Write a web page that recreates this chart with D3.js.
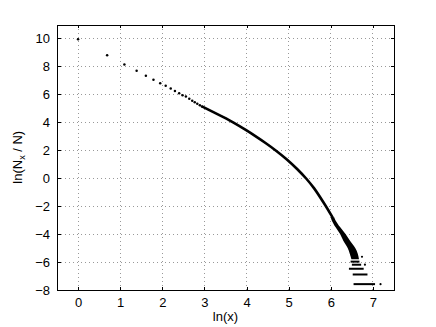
<!DOCTYPE html>
<html>
<head>
<meta charset="utf-8">
<script src="https://cdn.jsdelivr.net/npm/d3@7/dist/d3.min.js"></script>
<style>
  body { margin: 0; background: #fff; }
  svg { display: block; font-family: "Liberation Sans", Arial, sans-serif; }
</style>
</head>
<body>
<div id="chart"></div>
<script>
// separate points at the start
const headX = [0, 0.69, 1.10, 1.39, 1.61, 1.79, 1.95, 2.08, 2.20, 2.30, 2.40, 2.48, 2.56, 2.64, 2.71, 2.77, 2.83, 2.89, 2.94];
const headY = [9.95, 8.80, 8.14, 7.69, 7.33, 7.04, 6.80, 6.62, 6.42, 6.25, 6.08, 5.94, 5.84, 5.68, 5.55, 5.43, 5.32, 5.22, 5.14];

// dense part, where the dots merge into a line
const bodyX = [2.94, 3.20, 3.45, 3.68, 4.00, 4.20, 4.45, 4.70, 4.95, 5.20, 5.42, 5.60, 5.85, 6.05];
const bodyY = [5.14, 4.75, 4.37, 4.00, 3.42, 3.03, 2.52, 1.97, 1.36, 0.66, -0.04, -0.71, -1.85, -2.85];

// tail: horizontal spread of the dots at each height
const spreadY = [-2.8, -3.0, -3.5, -4.0, -4.5, -5.0, -5.4, -5.8];
const spreadLo = [6.00, 6.02, 6.11, 6.22, 6.30, 6.40, 6.45, 6.49];
const spreadHi = [6.08, 6.11, 6.22, 6.35, 6.46, 6.58, 6.64, 6.67];

// bottom rows (counts 1,2,3,4,5)
const runY = [-7.58, -6.89, -6.48, -6.19, -5.97];
const runX0 = [6.54, 6.52, 6.43, 6.50, 6.47];
const runX1 = [7.05, 6.87, 6.78, 6.72, 6.68];

// lone dots
const strayX = [7.18, 6.81, 6.74];
const strayY = [-7.58, -6.19, -5.62];

const xTicks = [0, 1, 2, 3, 4, 5, 6, 7];
const yTicks = [-8, -6, -4, -2, 0, 2, 4, 6, 8, 10];

const W = 436, H = 327;
const mLeft = 57, mRight = 394, mTop = 24.5, mBottom = 290;

const svg = d3.select("#chart").append("svg")
  .attr("width", W)
  .attr("height", H);

const x = d3.scaleLinear().domain([-0.5, 7.5]).range([mLeft, mRight]);
const y = d3.scaleLinear().domain([-8, 11]).range([mBottom, mTop]);

// grid
const grid = svg.append("g")
  .attr("stroke", "#999")
  .attr("stroke-width", 1)
  .attr("stroke-dasharray", "1,3")
  .attr("shape-rendering", "crispEdges");
grid.selectAll(".gx").data(xTicks).join("line")
  .attr("x1", d => x(d)).attr("x2", d => x(d))
  .attr("y1", mBottom).attr("y2", mTop);
grid.selectAll(".gy").data(yTicks).join("line")
  .attr("y1", d => y(d)).attr("y2", d => y(d))
  .attr("x1", mLeft).attr("x2", mRight);

// data
const plot = svg.append("g");

plot.append("path")
  .datum(bodyX.map((v, i) => [v, bodyY[i]]))
  .attr("fill", "none")
  .attr("stroke", "#000")
  .attr("stroke-width", 2.6)
  .attr("d", d3.line().x(d => x(d[0])).y(d => y(d[1])).curve(d3.curveMonotoneX));

plot.append("path")
  .datum(spreadY.map((v, i) => ({ y: v, lo: spreadLo[i], hi: spreadHi[i] })))
  .attr("fill", "#000")
  .attr("d", d3.area().y(d => y(d.y)).x0(d => x(d.lo)).x1(d => x(d.hi)).curve(d3.curveCatmullRom));

plot.selectAll(".run").data(runY).join("line")
  .attr("x1", (d, i) => x(runX0[i]))
  .attr("x2", (d, i) => x(runX1[i]))
  .attr("y1", d => y(d)).attr("y2", d => y(d))
  .attr("stroke", "#000")
  .attr("stroke-width", 2);

plot.selectAll(".head").data(headX).join("circle")
  .attr("cx", d => x(d))
  .attr("cy", (d, i) => y(headY[i]))
  .attr("r", 1.25)
  .attr("fill", "#000");

plot.selectAll(".stray").data(strayX).join("circle")
  .attr("cx", d => x(d))
  .attr("cy", (d, i) => y(strayY[i]))
  .attr("r", 1.1)
  .attr("fill", "#000");

// axes, ticks pointing inward on all four sides
const fmt = d => (d < 0 ? "\u2212" + Math.abs(d) : d);
const tick = 3.5;

const xAxis = svg.append("g")
  .attr("transform", `translate(0,${mBottom})`)
  .call(d3.axisBottom(x).tickValues(xTicks).tickSizeInner(-tick).tickSizeOuter(0).tickPadding(8).tickFormat(fmt));
const xTop = svg.append("g")
  .attr("transform", `translate(0,${mTop})`)
  .call(d3.axisTop(x).tickValues(xTicks).tickSizeInner(-tick).tickSizeOuter(0).tickFormat(""));
const yAxis = svg.append("g")
  .attr("transform", `translate(${mLeft},0)`)
  .call(d3.axisLeft(y).tickValues(yTicks).tickSizeInner(-tick).tickSizeOuter(0).tickPadding(7).tickFormat(fmt));
const yRight = svg.append("g")
  .attr("transform", `translate(${mRight},0)`)
  .call(d3.axisRight(y).tickValues(yTicks).tickSizeInner(-tick).tickSizeOuter(0).tickFormat(""));

[xAxis, xTop, yAxis, yRight].forEach(g => {
  g.selectAll("path, line").attr("stroke", "#000").attr("stroke-width", 1).attr("shape-rendering", "crispEdges");
  g.selectAll("text").attr("fill", "#000").attr("font-size", 13)
    .attr("font-family", "'Liberation Sans', Arial, sans-serif");
});

// labels
svg.append("text")
  .attr("x", (mLeft + mRight) / 2)
  .attr("y", 320.5)
  .attr("text-anchor", "middle")
  .attr("font-size", 13)
  .text("ln(x)");

const yl = svg.append("text")
  .attr("transform", `translate(22,${(mTop + mBottom) / 2}) rotate(-90)`)
  .attr("text-anchor", "middle")
  .attr("font-size", 13);
yl.append("tspan").text("ln(N");
yl.append("tspan").attr("font-size", 9).attr("dy", 3).text("x");
yl.append("tspan").attr("dy", -3).text(" / N)");
</script>
</body>
</html>
